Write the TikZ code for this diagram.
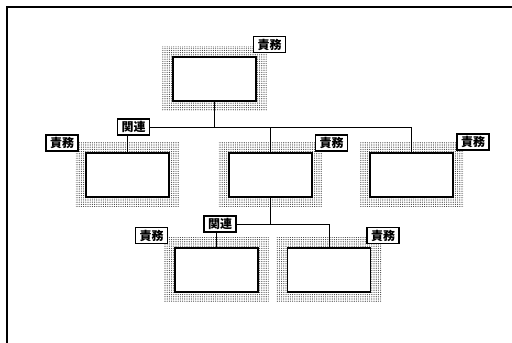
\documentclass[tikz,border=0pt]{standalone}
\usepackage{fontspec}
\newfontfamily\jpfont{Noto Sans CJK JP}
\usepackage{tikz}
\usetikzlibrary{calc,positioning,backgrounds,patterns.meta}

\begin{document}
\begin{tikzpicture}[x=1pt, y=-1pt,
    box/.style={draw, line width=1.3pt, fill=white, minimum width=83, minimum height=44, inner sep=0pt},
    tag/.style={draw, line width=1.1pt, fill=white, minimum width=32, minimum height=16, inner sep=1pt, font=\jpfont\bfseries\fontsize{12}{12}\selectfont},
    link/.style={line width=0.9pt}]
    \useasboundingbox (0,0) rectangle (512,343);

    % Cornice (solo lati superiore e sinistro)
    \draw[line width=1.6pt] (512,7) -- (7,7) -- (7,343);

    % Blocchi
    \node[box] (top) at (214.5, 79) {};
    \node[box] (left) at (127.5, 175) {};
    \node[box] (mid) at (270.5, 175) {};
    \node[box] (right) at (411.5, 175) {};
    \node[box] (bleft) at (216.5, 270) {};
    \node[box] (bright) at (329, 270) {};

    % Ombreggiatura a punti
    \begin{scope}[on background layer]
        \foreach \b in {top,left,mid,right,bleft,bright}
            \fill[pattern={Dots[distance=2.2pt, radius=0.6pt]}, pattern color=black!75]
                ($(\b.south west)+(-10,9)$) rectangle ($(\b.north east)+(10,-10)$);
    \end{scope}

    % Etichette
    \node[tag] (t-top) at (269.5, 44.5) {責務};
    \node[tag] (t-left) at (62, 143) {責務};
    \node[tag] (t-mid) at (331.5, 143) {責務};
    \node[tag] (t-right) at (473, 142) {責務};
    \node[tag] (t-bleft) at (151.5, 235.5) {責務};
    \node[tag] (t-bright) at (383, 235.5) {責務};
    \node[tag] (rel1) at (133.5, 127) {関連};
    \node[tag] (rel2) at (220, 224) {関連};

    % Collegamenti primo livello
    \draw[link] (rel1.east) -| (right.north);
    \draw[link] (top.south) -- (top.south |- rel1.east);
    \draw[link] (mid.north) -- (mid.north |- rel1.east);
    \draw[link] (left.north) -- (left.north |- rel1.south);

    % Collegamenti secondo livello
    \draw[link] (rel2.east) -| (bright.north);
    \draw[link] (mid.south) -- (mid.south |- rel2.east);
    \draw[link] (bleft.north) -- (bleft.north |- rel2.south);
\end{tikzpicture}
\end{document}
